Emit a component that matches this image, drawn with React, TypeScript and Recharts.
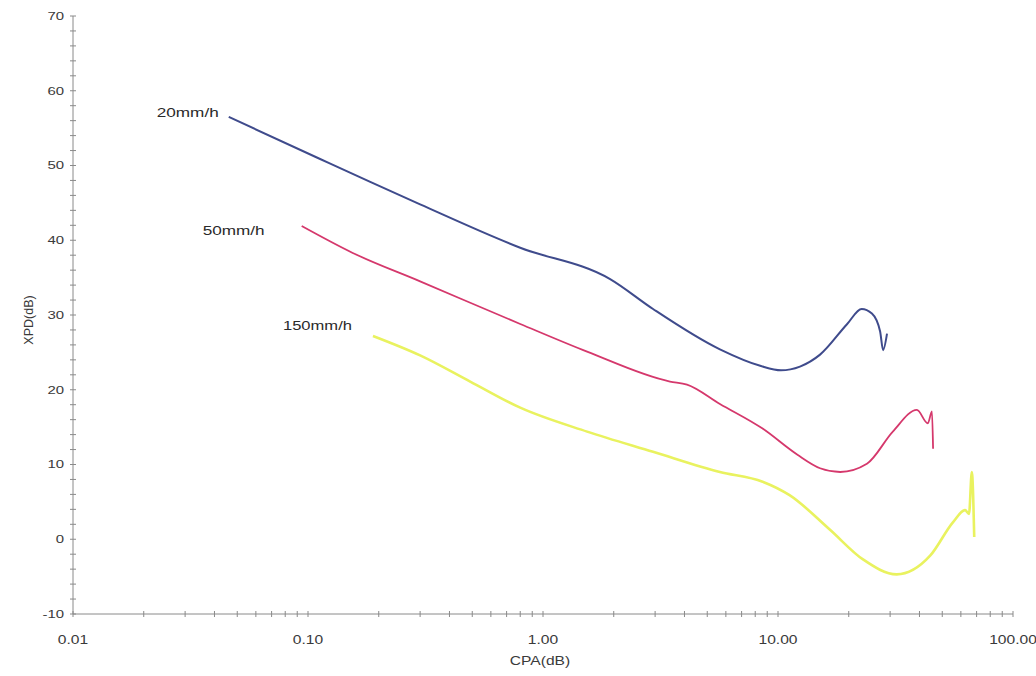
import React from 'react';
import { LineChart, Line, XAxis, YAxis } from 'recharts';

// CPA (dB) on a log axis, XPD (dB) for three rain rates
const rain20X = [0.046, 0.112, 0.184, 0.3, 0.8, 1.93, 2.94, 5.66, 8.4, 10.3, 12.4, 15.1, 19.7, 22.7, 25.1, 27.2, 28.0, 29.1];
const rain20Y = [56.5, 50.9, 47.8, 44.8, 39.0, 34.8, 30.8, 25.4, 23.2, 22.6, 23.1, 24.7, 28.8, 30.8, 30.2, 27.8, 25.3, 27.5];

const rain50X = [0.094, 0.155, 0.3, 0.8, 1.54, 3.47, 4.1, 5.66, 8.6, 12.1, 15.1, 18.4, 23.9, 30.8, 39, 43.4, 45.2, 45.7];
const rain50Y = [41.9, 38.3, 34.5, 28.8, 25.1, 21.1, 20.7, 18.1, 14.8, 11.3, 9.5, 9.0, 10.1, 14.4, 17.3, 15.5, 17.1, 12.1];

const rain150X = [0.189, 0.3, 0.49, 0.8, 1.54, 2.94, 5.66, 8.6, 11.2, 16.6, 23.0, 32, 44.4, 55.6, 62.5, 65, 66.8, 68.4];
const rain150Y = [27.2, 24.6, 21.1, 17.6, 14.4, 11.7, 9.0, 7.7, 5.9, 1.3, -2.7, -4.7, -2.2, 2.3, 3.9, 3.4, 9.0, 0.3];

const seriesNames = ['20mm/h', '50mm/h', '150mm/h'];

const xMajorTicks = [0.01, 0.1, 1, 10, 100];
const xTicks = [
  0.01, 0.02, 0.03, 0.04, 0.05, 0.06, 0.07, 0.08, 0.09,
  0.1, 0.2, 0.3, 0.4, 0.5, 0.6, 0.7, 0.8, 0.9,
  1, 2, 3, 4, 5, 6, 7, 8, 9,
  10, 20, 30, 40, 50, 60, 70, 80, 90,
  100,
];
const yTicks = [
  -10, -8, -6, -4, -2, 0, 2, 4, 6, 8, 10, 12, 14, 16, 18, 20, 22, 24, 26, 28, 30,
  32, 34, 36, 38, 40, 42, 44, 46, 48, 50, 52, 54, 56, 58, 60, 62, 64, 66, 68, 70,
];

const toPoints = (xs: number[], ys: number[]) => xs.map((x, i) => ({ x, y: ys[i] }));

const FONT = '"Liberation Sans", Arial, sans-serif';
const AXIS = '#8a8a8a';
const TEXT = '#3a3a3a';

const series = [
  { name: seriesNames[0], data: toPoints(rain20X, rain20Y), color: '#3f4b8c', width: 2, dx: -10, dy: -4, len: 62 },
  { name: seriesNames[1], data: toPoints(rain50X, rain50Y), color: '#d5386c', width: 1.8, dx: -37, dy: 5, len: 62 },
  { name: seriesNames[2], data: toPoints(rain150X, rain150Y), color: '#e9f25f', width: 2.6, dx: -21, dy: -10, len: 69 },
];

const XTick = (props: any) => {
  const { x, y, payload } = props;
  const v = payload.value as number;
  const major = xMajorTicks.some((m) => Math.abs(m - v) < 1e-9);
  return (
    <g>
      <line x1={x} x2={x} y1={y - 3} y2={y + 3} stroke={AXIS} strokeWidth={1} />
      {major && (
        <text
          transform={`translate(${x},${y + 26}) scale(1.3,1)`}
          textAnchor="middle"
          dominantBaseline="central"
          fontFamily={FONT}
          fontSize={12}
          fill={TEXT}
        >
          {v.toFixed(2)}
        </text>
      )}
    </g>
  );
};

const YTick = (props: any) => {
  const { x, y, payload } = props;
  const v = payload.value as number;
  const major = v % 10 === 0;
  return (
    <g>
      <line x1={x - 3} x2={x + 3} y1={y} y2={y} stroke={AXIS} strokeWidth={1} />
      {major && (
        <text
          transform={`translate(${x - 9},${y}) scale(1.3,1)`}
          textAnchor="end"
          dominantBaseline="central"
          fontFamily={FONT}
          fontSize={11.5}
          fill={TEXT}
        >
          {v}
        </text>
      )}
    </g>
  );
};

const xTitle = (props: any) => {
  const { x, y, width } = props.viewBox;
  return (
    <text
      transform={`translate(${x + width / 2 - 3},${y + 47}) scale(1.3,1)`}
      textAnchor="middle"
      dominantBaseline="central"
      fontFamily={FONT}
      fontSize={12}
      fill={TEXT}
    >
      CPA(dB)
    </text>
  );
};

const yTitle = (props: any) => {
  const { x, y, height } = props.viewBox;
  const cx = x + 29;
  const cy = y + height / 2 + 5;
  return (
    <text
      transform={`translate(${cx},${cy}) rotate(-90)`}
      textAnchor="middle"
      dominantBaseline="central"
      fontFamily={FONT}
      fontSize={12.5}
      fill={TEXT}
    >
      XPD(dB)
    </text>
  );
};

const makeSeriesLabel = (name: string, dx: number, dy: number, len: number) => (props: any) => {
  if (props.index !== 0) return null;
  return (
    <text
      x={props.x + dx}
      y={props.y + dy}
      textAnchor="end"
      dominantBaseline="central"
      fontFamily={FONT}
      fontSize={12}
      fill="#2a2a2a"
      textLength={len}
      lengthAdjust="spacingAndGlyphs"
    >
      {name}
    </text>
  );
};

export default function App() {
  return (
    <div style={{ position: 'absolute', left: 0, top: 0, width: 1036, height: 676, background: '#fff' }}>
      <LineChart width={1036} height={676} margin={{ top: 16, right: 23, left: 0, bottom: 0 }}>
        <XAxis
          type="number"
          dataKey="x"
          scale="log"
          domain={[0.01, 100]}
          ticks={xTicks}
          interval={0}
          allowDataOverflow
          height={62}
          stroke={AXIS}
          tickLine={false}
          tickSize={0}
          tickMargin={0}
          tick={XTick}
          label={xTitle}
        />
        <YAxis
          type="number"
          dataKey="y"
          domain={[-10, 70]}
          ticks={yTicks}
          interval={0}
          width={73}
          stroke={AXIS}
          tickLine={false}
          tickSize={0}
          tickMargin={0}
          tick={YTick}
          label={yTitle}
        />
        {series.map((s) => (
          <Line
            key={s.name}
            data={s.data}
            dataKey="y"
            name={s.name}
            type="monotone"
            stroke={s.color}
            strokeWidth={s.width}
            dot={false}
            activeDot={false}
            isAnimationActive={false}
            label={makeSeriesLabel(s.name, s.dx, s.dy, s.len)}
          />
        ))}
      </LineChart>
    </div>
  );
}
